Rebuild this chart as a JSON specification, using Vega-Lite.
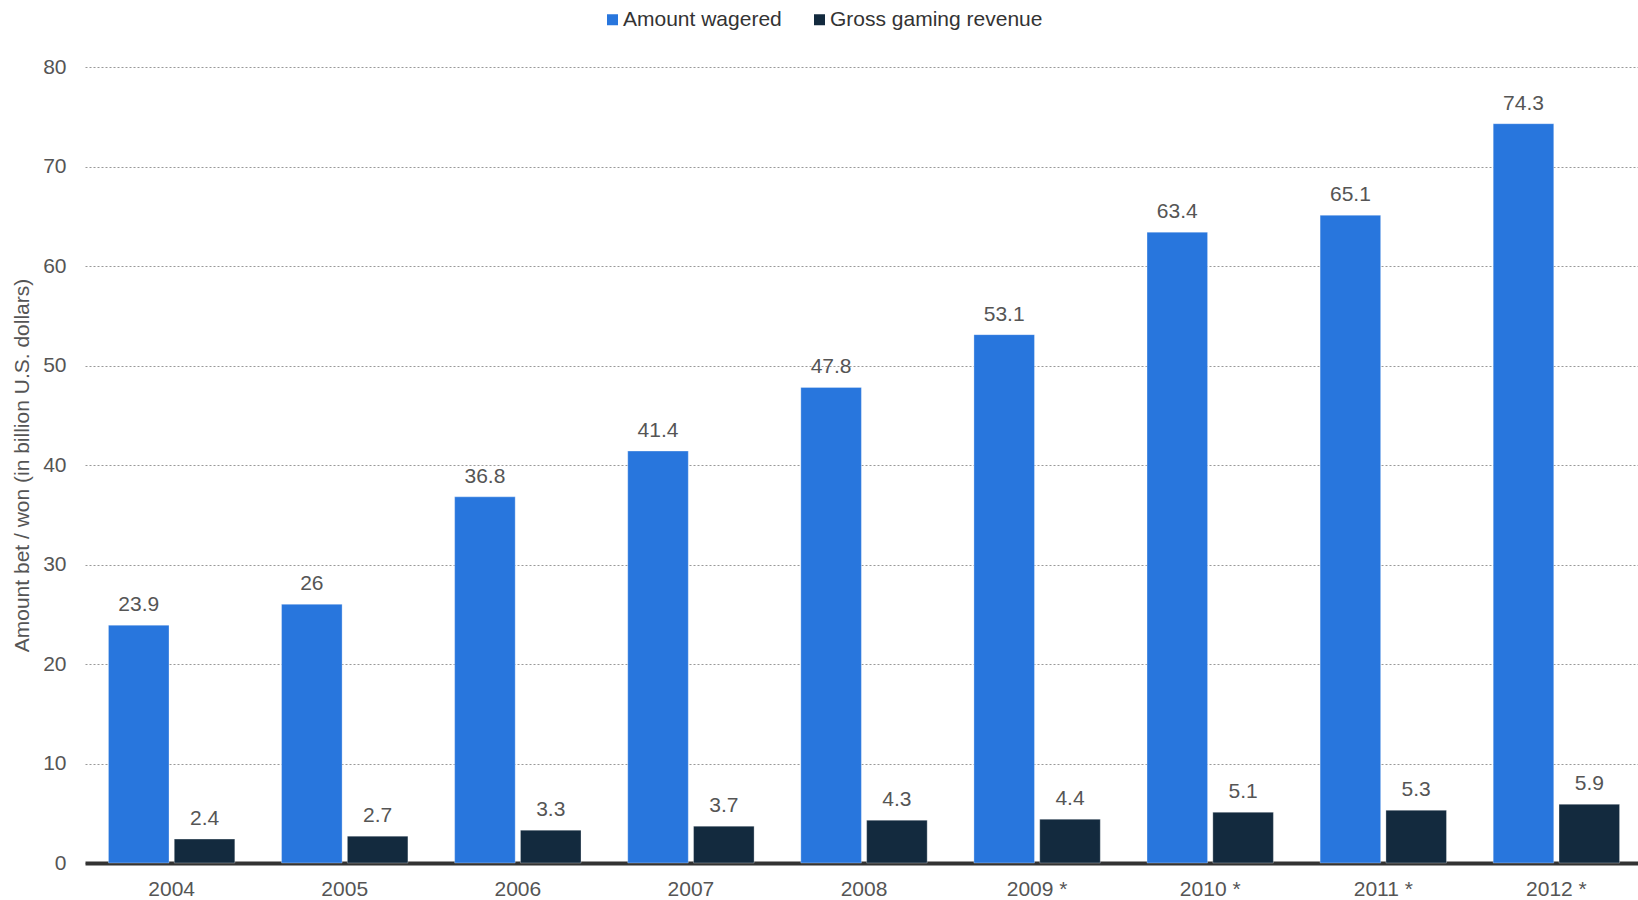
{
  "$schema": "https://vega.github.io/schema/vega-lite/v6.json",
  "width": 1553,
  "height": 796,
  "autosize": {"type": "none"},
  "padding": {"left": 85, "top": 67, "right": 0, "bottom": 37},
  "background": "white",
  "config": {
    "view": {"stroke": null},
    "font": "Liberation Sans",
    "axis": {"labelFont": "Liberation Sans", "titleFont": "Liberation Sans"},
    "legend": {"labelFont": "Liberation Sans"}
  },
  "data": {
    "values": [
      {"year": "2004", "series": "Amount wagered", "value": 23.9},
      {"year": "2005", "series": "Amount wagered", "value": 26},
      {"year": "2006", "series": "Amount wagered", "value": 36.8},
      {"year": "2007", "series": "Amount wagered", "value": 41.4},
      {"year": "2008", "series": "Amount wagered", "value": 47.8},
      {"year": "2009 *", "series": "Amount wagered", "value": 53.1},
      {"year": "2010 *", "series": "Amount wagered", "value": 63.4},
      {"year": "2011 *", "series": "Amount wagered", "value": 65.1},
      {"year": "2012 *", "series": "Amount wagered", "value": 74.3},
      {"year": "2004", "series": "Gross gaming revenue", "value": 2.4},
      {"year": "2005", "series": "Gross gaming revenue", "value": 2.7},
      {"year": "2006", "series": "Gross gaming revenue", "value": 3.3},
      {"year": "2007", "series": "Gross gaming revenue", "value": 3.7},
      {"year": "2008", "series": "Gross gaming revenue", "value": 4.3},
      {"year": "2009 *", "series": "Gross gaming revenue", "value": 4.4},
      {"year": "2010 *", "series": "Gross gaming revenue", "value": 5.1},
      {"year": "2011 *", "series": "Gross gaming revenue", "value": 5.3},
      {"year": "2012 *", "series": "Gross gaming revenue", "value": 5.9}
    ]
  },
  "encoding": {
    "x": {
      "field": "year",
      "type": "nominal",
      "sort": null,
      "scale": {"paddingInner": 0.27, "paddingOuter": 0.121, "align": 0.56},
      "axis": {
        "title": null,
        "labelAngle": 0,
        "labelFontSize": 21,
        "labelColor": "#555555",
        "labelPadding": 15,
        "ticks": false,
        "domainColor": "#333333",
        "domainWidth": 4
      }
    },
    "xOffset": {
      "field": "series",
      "type": "nominal",
      "sort": ["Amount wagered", "Gross gaming revenue"],
      "scale": {"paddingInner": 0.08}
    },
    "y": {
      "field": "value",
      "type": "quantitative",
      "scale": {"domain": [0, 80]},
      "axis": {
        "title": "Amount bet / won (in billion U.S. dollars)",
        "titleFontSize": 21,
        "titleFontWeight": "normal",
        "titleColor": "#555555",
        "titlePadding": 10,
        "labelFontSize": 21,
        "labelColor": "#555555",
        "labelPadding": 19,
        "tickCount": 8,
        "ticks": false,
        "domain": false,
        "gridColor": "#999999",
        "gridDash": [2, 2],
        "gridWidth": 1
      }
    }
  },
  "layer": [
    {
      "mark": {"type": "bar", "stroke": "#ffffff", "strokeOpacity": 0.3, "strokeWidth": 1},
      "encoding": {
        "color": {
          "field": "series",
          "type": "nominal",
          "scale": {"domain": ["Amount wagered", "Gross gaming revenue"], "range": ["#2876dd", "#132a3e"]},
          "legend": {
            "title": null,
            "orient": "none",
            "direction": "horizontal",
            "legendX": 517,
            "legendY": -58,
            "symbolType": "square",
            "symbolSize": 121,
            "symbolStrokeWidth": 0,
            "labelFontSize": 21,
            "labelColor": "#333333",
            "labelOffset": 0,
            "labelLimit": 400,
            "columnPadding": 27
          }
        }
      }
    },
    {
      "mark": {"type": "text", "baseline": "bottom", "dy": -10, "fontSize": 21, "color": "#555555"},
      "encoding": {
        "text": {"field": "value", "type": "quantitative"}
      }
    }
  ]
}
